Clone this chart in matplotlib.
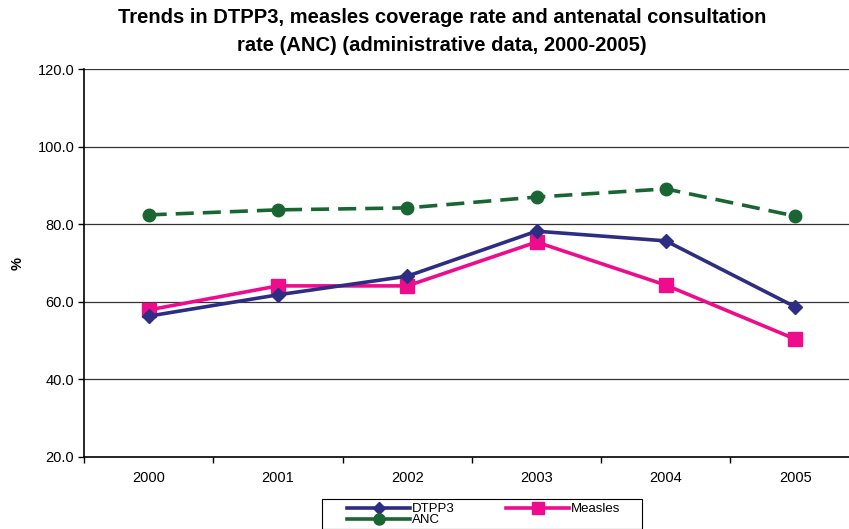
import matplotlib
matplotlib.use("Agg")
import matplotlib.pyplot as plt
from matplotlib.lines import Line2D
from matplotlib.patches import Rectangle
import numpy as np

plt.rcParams['font.family'] = ['Liberation Sans', 'DejaVu Sans']

years = ["2000", "2001", "2002", "2003", "2004", "2005"]
dtpp3 = [56.3, 61.8, 66.6, 78.2, 75.7, 58.7]
measles = [57.9, 64.1, 64.1, 75.4, 64.3, 50.4]
anc = [82.4, 83.7, 84.2, 87.0, 89.1, 82.1]
yticks = [20.0, 40.0, 60.0, 80.0, 100.0, 120.0]

c_dtp, c_mea, c_anc = '#2E2D84', '#EE0C8C', '#1A6633'

W, H = 849, 529
fig = plt.figure(figsize=(W/100, H/100), dpi=100)
left = 84 / W
bottom = (H - 457) / H
axw = 6 * 129.3
width = axw / W
height = (457 - 69) / H
ax = fig.add_axes([left, bottom, width, height])

x = np.arange(len(years))
ax.plot(x, dtpp3, color=c_dtp, lw=2.6, marker='D', ms=7.5, zorder=4)
ax.plot(x, measles, color=c_mea, lw=2.6, marker='s', ms=9.5, zorder=3)
ax.plot(x, anc, color=c_anc, lw=2.6, ls=(0, (5, 2.5)), marker='o', ms=9, zorder=5)

ax.set_xlim(-0.5, 5.5)
ax.set_ylim(20, 120)
ax.set_yticks(yticks)
ax.set_yticklabels([f"{v:.1f}" for v in yticks], fontsize=10.5)
ax.set_xticks(np.arange(-0.5, 6, 1.0))
ax.set_xticklabels([])
ax.set_xticks(x, minor=True)
ax.set_xticklabels(years, minor=True, fontsize=10.5)
ax.tick_params(axis='x', which='minor', length=0, pad=10)
ax.tick_params(axis='x', which='major', length=4, width=1, direction='out')
ax.tick_params(axis='y', length=4, width=1, direction='out', pad=3)
for yv in yticks[1:]:
    ax.axhline(yv, color='#333333', lw=0.9, zorder=1)
for s in ['top', 'right']:
    ax.spines[s].set_visible(False)
ax.spines['left'].set_linewidth(1.2)
ax.spines['bottom'].set_linewidth(1.2)
ax.set_ylabel('%', fontsize=10.5, fontweight='bold')
ax.yaxis.set_label_coords((25 - 84) / axw, 0.5)

fig.text(442 / W, 0.984, "Trends in DTPP3, measles coverage rate and antenatal consultation\nrate (ANC) (administrative data, 2000-2005)",
         ha='center', va='top', fontsize=14.5, fontweight='bold', linespacing=1.55)

# legend frame
fig.patches.append(Rectangle((322 / W, 0), 320 / W, 30 / H, transform=fig.transFigure,
                             fill=False, edgecolor='black', lw=0.8))
handles = [
    Line2D([], [], color=c_dtp, lw=2.6, marker='D', ms=6.5),
    Line2D([], [], color=c_anc, lw=2.6, marker='o', ms=8),
    Line2D([], [], color=c_mea, lw=2.6, marker='s', ms=8),
]
labels = ['DTPP3', 'ANC', 'Measles']
leg = fig.legend(handles, labels, loc='upper left', bbox_to_anchor=(347 / W, (H - 503) / H),
                 ncol=2, fontsize=9.5, frameon=False,
                 handlelength=4.8, borderpad=0, labelspacing=-0.1, handletextpad=0.1,
                 borderaxespad=0, columnspacing=3.9)

fig.savefig('out.png', dpi=100)
